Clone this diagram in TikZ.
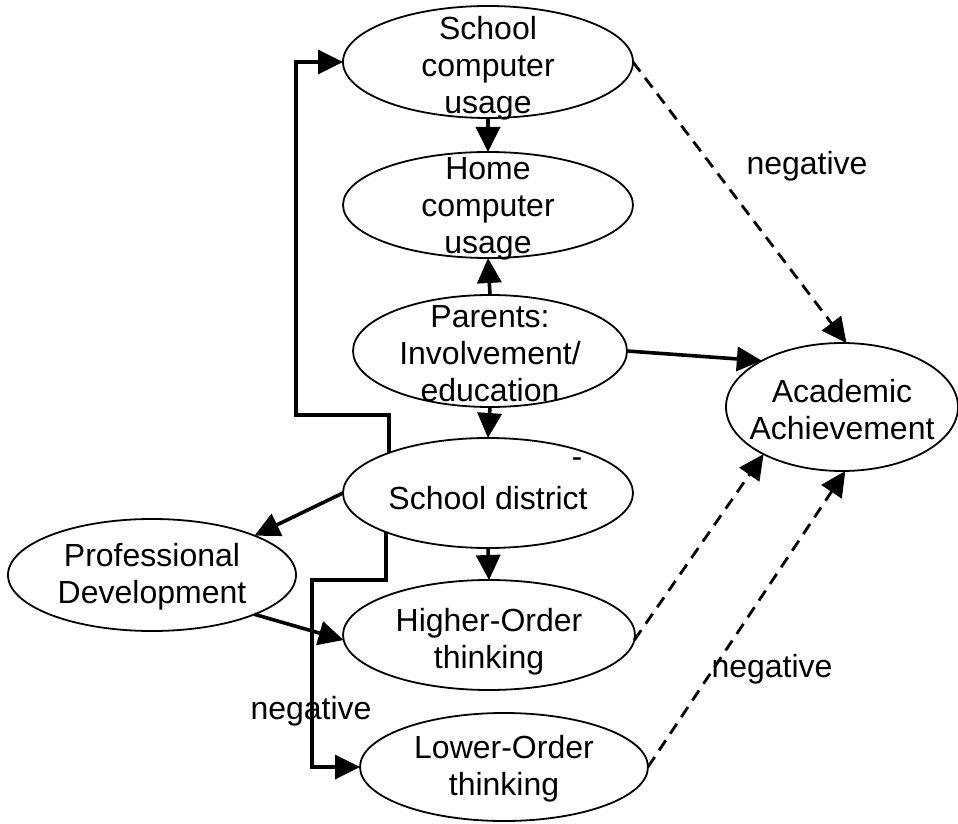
\documentclass[tikz,border=0pt]{standalone}
\usepackage{fontspec}
\setmainfont{Liberation Sans}
\usetikzlibrary{arrows.meta,shapes.geometric}
\begin{document}
\begin{tikzpicture}[x=1pt,y=1pt,
  ell/.style={draw, ellipse, line width=1.8pt, inner sep=0pt, outer sep=0pt},
  txt/.style={align=center, font=\fontsize{32}{37}\selectfont, inner sep=0pt},
  conn/.style={line width=3.6pt, -{Triangle[length=25pt,width=24pt]}},
  dconn/.style={line width=2.8pt, dash pattern=on 12pt off 8pt, -{Triangle[length=25pt,width=24pt]}}
]
\useasboundingbox (0,0) rectangle (958,823);
% ellipses
\node[ell, minimum width=290pt, minimum height=112pt] (scu) at (488,761) {};
\node[ell, minimum width=290pt, minimum height=106pt] (hcu) at (488,618) {};
\node[ell, minimum width=274pt, minimum height=112pt] (par) at (490,472) {};
\node[ell, minimum width=290pt, minimum height=110pt] (sd) at (488,330) {};
\node[ell, minimum width=288pt, minimum height=112pt] (pd) at (152,248) {};
\node[ell, minimum width=292pt, minimum height=110pt] (hot) at (489,188) {};
\node[ell, minimum width=288pt, minimum height=108pt] (lot) at (504,56) {};
\node[ell, minimum width=232pt, minimum height=128pt] (aa) at (842,416) {};
% texts
\node[txt] (scut) at (488,755) {School\\computer\\usage};
\node[txt] (hcut) at (488,614) {Home\\computer\\usage};
\node[txt] (part) at (490,469) {Parents:\\Involvement/\\education};
\node[txt] (sdt) at (488,325) {School district};
\node[txt] (pdt) at (152,246) {Professional\\Development};
\node[txt] (hott) at (489,181) {Higher-Order\\thinking};
\node[txt] (lott) at (504,54) {Lower-Order\\thinking};
\node[txt] (aat) at (842,413) {Academic\\Achievement};
% labels
\node[txt] (neg1) at (807,657) {negative};
\node[txt] (neg2) at (772,154) {negative};
\node[txt] (neg3) at (311,112) {negative};
\node[txt] (dash) at (577,360) {-};
% coordinates
\coordinate (c1) at (296,408);
\coordinate (c2) at (312,243);
% connectors
\draw[conn] (sd.158.9) |- (c1) |- (scu.west);
\draw[conn] (scu.south) -- (hcu.north);
\draw[conn] (par.north) -- (hcu.south);
\draw[conn] (par.south) -- (sd.north);
\draw[conn] (par.east) -- (aa.150);
\draw[dconn] (scu.east) -- (aa.86);
\draw[conn] (sd.west) -- (pd.21);
\draw[conn] (pd.-21) -- (hot.182);
\draw[conn] (sd.201.1) |- (c2) |- (lot.west);
\draw[conn] (sd.south) -- (hot.north);
\draw[dconn] (hot.-2) -- (aa.211);
\draw[dconn] (lot.east) -- (aa.273);
\end{tikzpicture}
\end{document}
